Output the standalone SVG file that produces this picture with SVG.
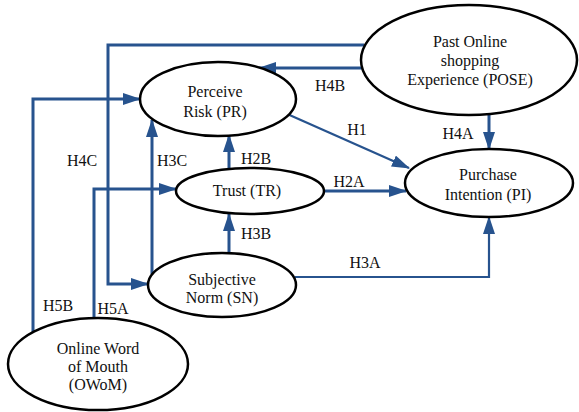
<svg xmlns="http://www.w3.org/2000/svg" width="579" height="412" viewBox="0 0 579 412">
<style>
.node{fill:#fff;stroke:#000;stroke-width:2.5}
.t{font-family:"Liberation Serif","Times New Roman",serif;font-size:16px;fill:#111;text-anchor:middle}
.c{fill:none;stroke:#27538e;stroke-width:3;marker-end:url(#ah)}
.thin{stroke-width:2.2}
</style>
<defs>
<marker id="ah" markerUnits="userSpaceOnUse" markerWidth="18" markerHeight="12" refX="17" refY="6" orient="auto">
<path d="M0,0 L18,6 L0,12 z" fill="#27538e"/>
</marker>
</defs>
<rect width="579" height="412" fill="#fff"/>
<g id="connectors">
<path class="c" d="M364,45 H108 V284 H148"/>
<path class="c" d="M362,68 H259"/>
<path class="c" d="M33,332 V99 H140"/>
<path class="c" d="M94,318 V189 H176"/>
<path class="c" d="M152,274 V120"/>
<path class="c" d="M229,168 V135"/>
<path class="c" d="M229,253 V214"/>
<path class="c thin" d="M295,277 H489 V217"/>
<path class="c thin" d="M285,113 L409,168"/>
<path class="c" d="M324,191 H406"/>
<path class="c" d="M489,114 V149"/>
<g class="t">
<text x="82" y="166">H4C</text>
<text x="172" y="166">H3C</text>
<text x="256" y="164">H2B</text>
<text x="256" y="239">H3B</text>
<text x="58" y="311">H5B</text>
<text x="113" y="314">H5A</text>
<text x="330" y="91">H4B</text>
<text x="357" y="135">H1</text>
<text x="458" y="139">H4A</text>
<text x="349" y="187">H2A</text>
<text x="365" y="268">H3A</text>
</g>
</g>
<g id="PR">
<ellipse class="node" cx="218" cy="99" rx="78" ry="37"/>
<text class="t" x="215" y="97">Perceive</text>
<text class="t" x="215" y="117">Risk (PR)</text>
</g>
<g id="POSE">
<ellipse class="node" cx="469" cy="60" rx="108" ry="55"/>
<text class="t" x="470" y="47">Past Online</text>
<text class="t" x="470" y="66">shopping</text>
<text class="t" x="470" y="85">Experience (POSE)</text>
</g>
<g id="PI">
<ellipse class="node" cx="489" cy="183" rx="84" ry="34"/>
<text class="t" x="488" y="180">Purchase</text>
<text class="t" x="488" y="200">Intention (PI)</text>
</g>
<g id="TR">
<ellipse class="node" cx="250" cy="191" rx="74" ry="23"/>
<text class="t" x="247" y="196">Trust (TR)</text>
</g>
<g id="SN">
<ellipse class="node" cx="222" cy="285" rx="74" ry="32"/>
<text class="t" x="222" y="285">Subjective</text>
<text class="t" x="222" y="303">Norm (SN)</text>
</g>
<g id="OWoM">
<ellipse class="node" cx="98" cy="364" rx="90" ry="46"/>
<text class="t" x="98" y="354">Online Word</text>
<text class="t" x="98" y="372">of Mouth</text>
<text class="t" x="98" y="390">(OWoM)</text>
</g>
</svg>
